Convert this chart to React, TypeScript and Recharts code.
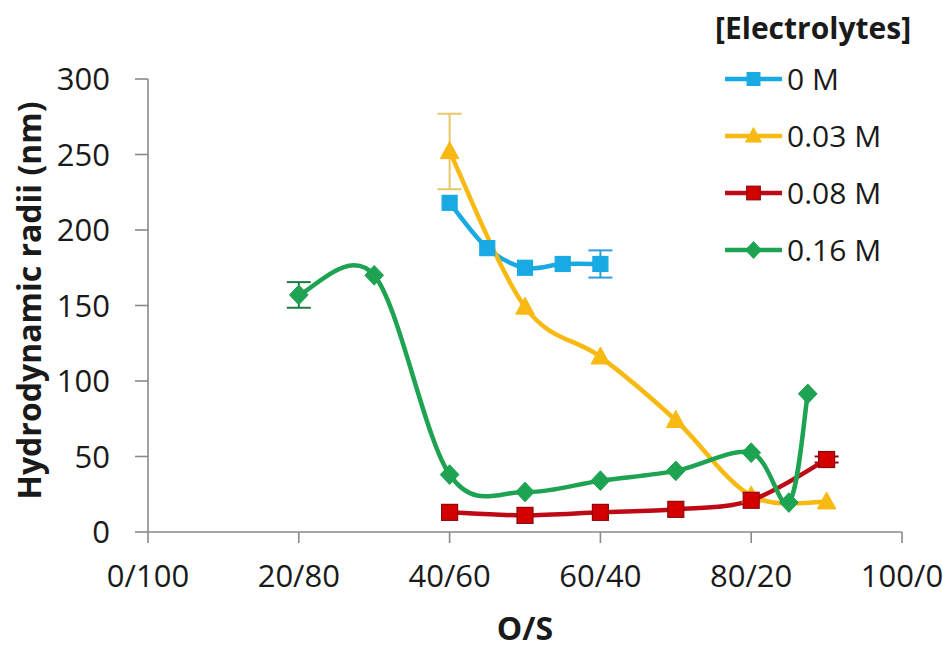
import React from 'react';
import { LineChart, Line, XAxis, YAxis, ErrorBar, Legend } from 'recharts';

// ---------- data ----------
const xTicks = [0, 20, 40, 60, 80, 100];
const xTickLabels = ['0/100', '20/80', '40/60', '60/40', '80/20', '100/0'];
const yTicks = [0, 50, 100, 150, 200, 250, 300];

const x0M = [40, 45, 50, 55, 60];
const y0M = [218, 188, 175, 177.5, 177.5];
const e0M = [0, 0, 0, 0, 9];

const x003M = [40, 50, 60, 70, 80, 90];
const y003M = [252, 149, 116, 74, 24, 20];
const e003M = [25, 0, 0, 0, 0, 0];

const x008M = [40, 50, 60, 70, 80, 90];
const y008M = [13, 11, 13, 15, 21, 48];
const e008M = [0, 0, 0, 0, 0, 2];

const x016M = [20, 30, 40, 50, 60, 70, 80, 85, 87.5];
const y016M = [157, 170, 38, 26.5, 34, 40.5, 52.5, 19.5, 91.5];
const e016M = [8.5, 0, 0, 0, 0, 0, 0, 0, 0];

const seriesNames = ['0 M', '0.03 M', '0.08 M', '0.16 M'];

// ---------- helpers ----------
const FONT = '"Open Sans", "DejaVu Sans", sans-serif';

const toRows = (xs: number[], ys: number[], es: number[]) =>
  xs.map((x, i) => ({ x, y: ys[i], err: es[i] ? es[i] : undefined }));

// Excel-like smoothing (Catmull-Rom as cubic Bezier) as a d3 curve factory
const excelCurve: any = (context: any) => {
  let pts: number[][] = [];
  return {
    areaStart() {},
    areaEnd() {},
    lineStart() {
      pts = [];
    },
    point(x: number, y: number) {
      pts.push([+x, +y]);
    },
    lineEnd() {
      const n = pts.length;
      if (!n) return;
      context.moveTo(pts[0][0], pts[0][1]);
      for (let i = 0; i < n - 1; i++) {
        const p0 = pts[i === 0 ? 0 : i - 1];
        const p1 = pts[i];
        const p2 = pts[i + 1];
        const p3 = pts[i + 2 < n ? i + 2 : n - 1];
        context.bezierCurveTo(
          p1[0] + (p2[0] - p0[0]) / 6,
          p1[1] + (p2[1] - p0[1]) / 6,
          p2[0] - (p3[0] - p1[0]) / 6,
          p2[1] - (p3[1] - p1[1]) / 6,
          p2[0],
          p2[1]
        );
      }
    },
  };
};

type Marker = 'square' | 'triangle' | 'diamond';

const markerEl = (shape: Marker, cx: number, cy: number, s: number, fill: string, stroke: string, key?: string) => {
  if (shape === 'square') {
    return <rect key={key} x={cx - s / 2} y={cy - s / 2} width={s} height={s} fill={fill} stroke={stroke} strokeWidth={1.2} />;
  }
  if (shape === 'triangle') {
    const d = `M${cx},${cy - s * 0.58} L${cx + s * 0.55},${cy + s * 0.42} L${cx - s * 0.55},${cy + s * 0.42} Z`;
    return <path key={key} d={d} fill={fill} stroke={stroke} strokeWidth={1} />;
  }
  const d = `M${cx},${cy - s * 0.58} L${cx + s * 0.55},${cy} L${cx},${cy + s * 0.58} L${cx - s * 0.55},${cy} Z`;
  return <path key={key} d={d} fill={fill} stroke={stroke} strokeWidth={1} />;
};

const SERIES = [
  { name: seriesNames[0], data: toRows(x0M, y0M, e0M), color: '#19a9e3', fill: '#19a9e3', stroke: '#19a9e3', errColor: '#2aa0d8', marker: 'square' as Marker, size: 15 },
  { name: seriesNames[1], data: toRows(x003M, y003M, e003M), color: '#f7b912', fill: '#f7b912', stroke: '#f7b912', errColor: '#e8c768', marker: 'triangle' as Marker, size: 17 },
  { name: seriesNames[2], data: toRows(x008M, y008M, e008M), color: '#be0a14', fill: '#d40000', stroke: '#8a0a10', errColor: '#8a0a10', marker: 'square' as Marker, size: 16 },
  { name: seriesNames[3], data: toRows(x016M, y016M, e016M), color: '#1ea352', fill: '#1ea352', stroke: '#1ea352', errColor: '#1d7a45', marker: 'diamond' as Marker, size: 17 },
];

const makeDot = (s: (typeof SERIES)[number]) => (props: any) => {
  const { cx, cy, index } = props;
  if (cx == null || cy == null) return <g key={`d-${index}`} />;
  return markerEl(s.marker, cx, cy, s.size, s.fill, s.stroke, `d-${index}`);
};

const YTitle = (props: any) => {
  const vb = props.viewBox || { x: 0, y: 79, width: 148, height: 453 };
  const x = vb.x + 41;
  const y = vb.y + vb.height / 2 - 5;
  return (
    <text x={x} y={y} transform={`rotate(-90 ${x} ${y})`} textAnchor="middle" fontFamily={FONT} fontWeight={700} fontSize={32} fill="#1a1a1a">
      Hydrodynamic radii (nm)
    </text>
  );
};

const XTitle = (props: any) => {
  const vb = props.viewBox || { x: 148, y: 532, width: 754, height: 120 };
  return (
    <text x={vb.x + vb.width / 2} y={vb.y + 108} textAnchor="middle" fontFamily={FONT} fontWeight={700} fontSize={32} fill="#1a1a1a">
      O/S
    </text>
  );
};

const LegendBox = () => (
  <div style={{ fontFamily: FONT, color: '#1a1a1a' }}>
    <div style={{ height: 50, lineHeight: '56px', fontSize: 30, fontWeight: 700, whiteSpace: 'nowrap' }}>[Electrolytes]</div>
    {SERIES.map((s) => (
      <div key={s.name} style={{ height: 57, display: 'flex', alignItems: 'center', paddingLeft: 10 }}>
        <svg width={57} height={24} style={{ display: 'block' }}>
          <line x1={0} y1={12} x2={57} y2={12} stroke={s.color} strokeWidth={4.5} />
          {markerEl(s.marker, 28.5, 12, s.size * 0.85, s.fill, s.stroke)}
        </svg>
        <span style={{ fontSize: 30, marginLeft: 5, whiteSpace: 'nowrap' }}>{s.name}</span>
      </div>
    ))}
  </div>
);

export default function App() {
  const axisColor = '#8a8a8a';
  const tickStyle = { fill: '#1a1a1a', fontSize: 31, fontFamily: FONT };
  return (
    <div style={{ position: 'absolute', left: 0, top: 0, background: '#fff' }}>
      <LineChart width={943} height={652} margin={{ top: 79, right: 41, bottom: 0, left: 0 }}>
        <XAxis
          type="number"
          dataKey="x"
          domain={[0, 100]}
          ticks={xTicks}
          interval={0}
          tickFormatter={(v: number) => xTickLabels[xTicks.indexOf(v)]}
          height={120}
          tickSize={11}
          tickMargin={22}
          tick={tickStyle}
          axisLine={{ stroke: axisColor, strokeWidth: 1.6 }}
          tickLine={{ stroke: axisColor, strokeWidth: 1.6 }}
          label={<XTitle />}
          allowDuplicatedCategory={false}
        />
        <YAxis
          type="number"
          domain={[0, 300]}
          ticks={yTicks}
          interval={0}
          width={148}
          tickSize={13}
          tickMargin={25}
          tick={tickStyle}
          axisLine={{ stroke: axisColor, strokeWidth: 1.6 }}
          tickLine={{ stroke: axisColor, strokeWidth: 1.6 }}
          label={<YTitle />}
        />
        <Legend
          layout="horizontal"
          verticalAlign="middle"
          align="center"
          wrapperStyle={{ left: 715, top: 0, width: 228, height: 300 }}
          content={() => <LegendBox />}
        />
        {SERIES.map((s) => (
          <Line
            key={s.name}
            data={s.data}
            dataKey="y"
            name={s.name}
            type={excelCurve}
            stroke={s.color}
            strokeWidth={4.5}
            dot={makeDot(s)}
            activeDot={false}
            isAnimationActive={false}
          >
            <ErrorBar dataKey="err" direction="y" width={12} stroke={s.errColor} strokeWidth={2} />
          </Line>
        ))}
      </LineChart>
    </div>
  );
}
